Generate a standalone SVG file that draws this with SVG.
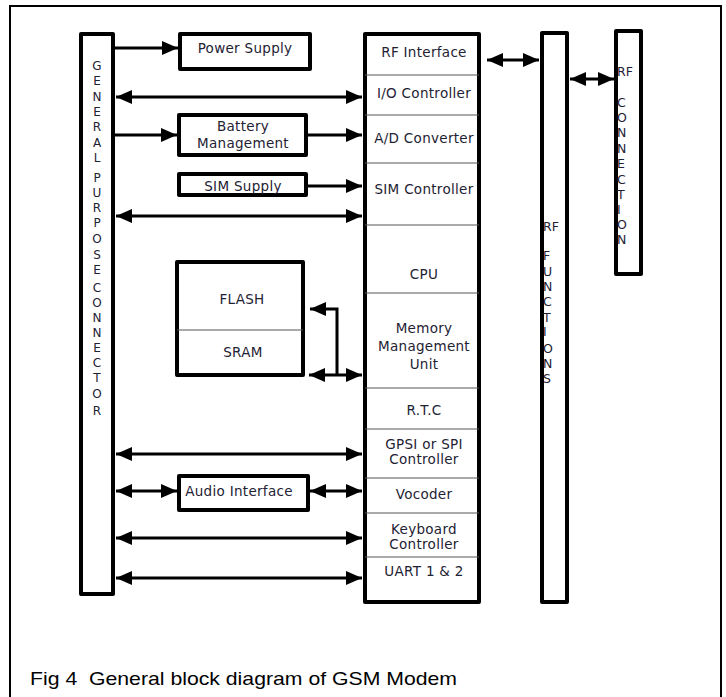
<svg xmlns="http://www.w3.org/2000/svg" width="726" height="697" viewBox="0 0 726 697">
<style>
.box{fill:#fff;stroke:#000;stroke-width:4;stroke-linejoin:round}
.div{stroke:#555;stroke-width:1.2}
.t{font-family:"DejaVu Sans",sans-serif;font-size:13.5px;fill:#1e2233;text-anchor:middle;letter-spacing:0.3px}
.v{font-family:"DejaVu Sans",sans-serif;font-size:12px;fill:#1e2233;text-anchor:middle}
.vs{font-family:"DejaVu Sans",sans-serif;font-size:12.5px;fill:#1e2233;text-anchor:start}
.c{stroke:#000;stroke-width:3;fill:none}
.cap{font-family:"Liberation Sans",Arial,sans-serif;font-size:19px;fill:#000}
</style>
<defs>
<marker id="ah" markerUnits="userSpaceOnUse" markerWidth="18" markerHeight="16" refX="16" refY="7.5" orient="auto-start-reverse" viewBox="0 0 18 16">
<path d="M0,0.5 L16,7.5 L0,14.5 Z" fill="#000"/>
</marker>
</defs>
<rect x="10" y="6" width="711" height="720" fill="#fff" stroke="#000" stroke-width="2"/>

<g id="gp-connector">
<rect class="box" x="81" y="34" width="32" height="560"/>
<text class="v" x="97"><tspan x="97" y="70">G</tspan><tspan x="97" y="85">E</tspan><tspan x="97" y="101">N</tspan><tspan x="97" y="116">E</tspan><tspan x="97" y="131">R</tspan><tspan x="97" y="147">A</tspan><tspan x="97" y="162">L</tspan><tspan x="97" y="182">P</tspan><tspan x="97" y="197">U</tspan><tspan x="97" y="212">R</tspan><tspan x="97" y="227">P</tspan><tspan x="97" y="243">O</tspan><tspan x="97" y="259">S</tspan><tspan x="97" y="274">E</tspan><tspan x="97" y="292">C</tspan><tspan x="97" y="307">O</tspan><tspan x="97" y="322">N</tspan><tspan x="97" y="337">N</tspan><tspan x="97" y="352">E</tspan><tspan x="97" y="367">C</tspan><tspan x="97" y="382">T</tspan><tspan x="97" y="398">O</tspan><tspan x="97" y="415">R</tspan></text>
</g>

<g id="power-supply">
<rect class="box" x="180" y="34" width="130" height="35"/>
<text class="t" x="245" y="53">Power Supply</text>
</g>
<g id="battery-management">
<rect class="box" x="179" y="115" width="127" height="40"/>
<text class="t" x="243" y="131">Battery</text>
<text class="t" x="243" y="148">Management</text>
</g>
<g id="sim-supply">
<rect class="box" x="179" y="174" width="127" height="21"/>
<text class="t" x="243" y="191">SIM Supply</text>
</g>
<g id="flash-sram">
<rect class="box" x="177" y="262" width="126" height="113"/>
<line class="div" x1="177" y1="330" x2="303" y2="330"/>
<text class="t" x="242" y="304">FLASH</text>
<text class="t" x="243" y="357">SRAM</text>
</g>
<g id="audio-interface">
<rect class="box" x="179" y="476" width="129" height="34"/>
<text class="t" x="239" y="496">Audio Interface</text>
</g>

<g id="main-column">
<rect class="box" x="365" y="34" width="114" height="568"/>
<line class="div" x1="365" y1="75" x2="479" y2="75"/>
<line class="div" x1="365" y1="115" x2="479" y2="115"/>
<line class="div" x1="365" y1="163" x2="479" y2="163"/>
<line class="div" x1="365" y1="225" x2="479" y2="225"/>
<line class="div" x1="365" y1="293" x2="479" y2="293"/>
<line class="div" x1="365" y1="388" x2="479" y2="388"/>
<line class="div" x1="365" y1="429" x2="479" y2="429"/>
<line class="div" x1="365" y1="478" x2="479" y2="478"/>
<line class="div" x1="365" y1="513" x2="479" y2="513"/>
<line class="div" x1="365" y1="557" x2="479" y2="557"/>
<text class="t" x="424" y="57">RF Interface</text>
<text class="t" x="424" y="98">I/O Controller</text>
<text class="t" x="424" y="143">A/D Converter</text>
<text class="t" x="424" y="194">SIM Controller</text>
<text class="t" x="424" y="279">CPU</text>
<text class="t" x="424" y="333">Memory</text>
<text class="t" x="424" y="351">Management</text>
<text class="t" x="424" y="369">Unit</text>
<text class="t" x="424" y="415">R.T.C</text>
<text class="t" x="424" y="449">GPSI or SPI</text>
<text class="t" x="424" y="464">Controller</text>
<text class="t" x="424" y="499">Vocoder</text>
<text class="t" x="424" y="534">Keyboard</text>
<text class="t" x="424" y="549">Controller</text>
<text class="t" x="424" y="576">UART 1 &amp; 2</text>
</g>

<g id="rf-functions">
<rect class="box" x="542" y="33" width="25" height="569"/>
<text class="vs" x="543"><tspan x="543" y="231">RF</tspan><tspan x="543" y="260">F</tspan><tspan x="543" y="276">U</tspan><tspan x="543" y="291">N</tspan><tspan x="543" y="306">C</tspan><tspan x="543" y="322">T</tspan><tspan x="543" y="336">I</tspan><tspan x="543" y="353">O</tspan><tspan x="543" y="368">N</tspan><tspan x="543" y="383">S</tspan></text>
</g>

<g id="rf-connection">
<rect class="box" x="616" y="31" width="25" height="243"/>
<text class="vs" x="617"><tspan x="617" y="76">RF</tspan><tspan x="617" y="107">C</tspan><tspan x="617" y="122">O</tspan><tspan x="617" y="137">N</tspan><tspan x="617" y="153">N</tspan><tspan x="617" y="168">E</tspan><tspan x="617" y="184">C</tspan><tspan x="617" y="199">T</tspan><tspan x="617" y="214">I</tspan><tspan x="617" y="229">O</tspan><tspan x="617" y="244">N</tspan></text>
</g>

<g id="connectors">
<line class="c" x1="115" y1="48" x2="178" y2="48" marker-end="url(#ah)"/>
<line class="c" x1="116" y1="97" x2="362" y2="97" marker-start="url(#ah)" marker-end="url(#ah)"/>
<line class="c" x1="115" y1="135" x2="177" y2="135" marker-end="url(#ah)"/>
<line class="c" x1="308" y1="135" x2="362" y2="135" marker-end="url(#ah)"/>
<line class="c" x1="308" y1="186" x2="362" y2="186" marker-end="url(#ah)"/>
<line class="c" x1="116" y1="216" x2="362" y2="216" marker-start="url(#ah)" marker-end="url(#ah)"/>
<polyline class="c" points="310,309 337,309 337,375" marker-start="url(#ah)"/>
<line class="c" x1="309" y1="375" x2="362" y2="375" marker-start="url(#ah)" marker-end="url(#ah)"/>
<line class="c" x1="116" y1="454" x2="362" y2="454" marker-start="url(#ah)" marker-end="url(#ah)"/>
<line class="c" x1="116" y1="491" x2="177" y2="491" marker-start="url(#ah)" marker-end="url(#ah)"/>
<line class="c" x1="310" y1="491" x2="362" y2="491" marker-start="url(#ah)" marker-end="url(#ah)"/>
<line class="c" x1="116" y1="538" x2="362" y2="538" marker-start="url(#ah)" marker-end="url(#ah)"/>
<line class="c" x1="116" y1="578" x2="362" y2="578" marker-start="url(#ah)" marker-end="url(#ah)"/>
<line class="c" x1="487" y1="60" x2="539" y2="60" marker-start="url(#ah)" marker-end="url(#ah)"/>
<line class="c" x1="570" y1="79" x2="614" y2="79" marker-start="url(#ah)" marker-end="url(#ah)"/>
</g>

<text class="cap" x="30" y="685" xml:space="preserve" textLength="427" lengthAdjust="spacingAndGlyphs">Fig 4  General block diagram of GSM Modem</text>
</svg>
